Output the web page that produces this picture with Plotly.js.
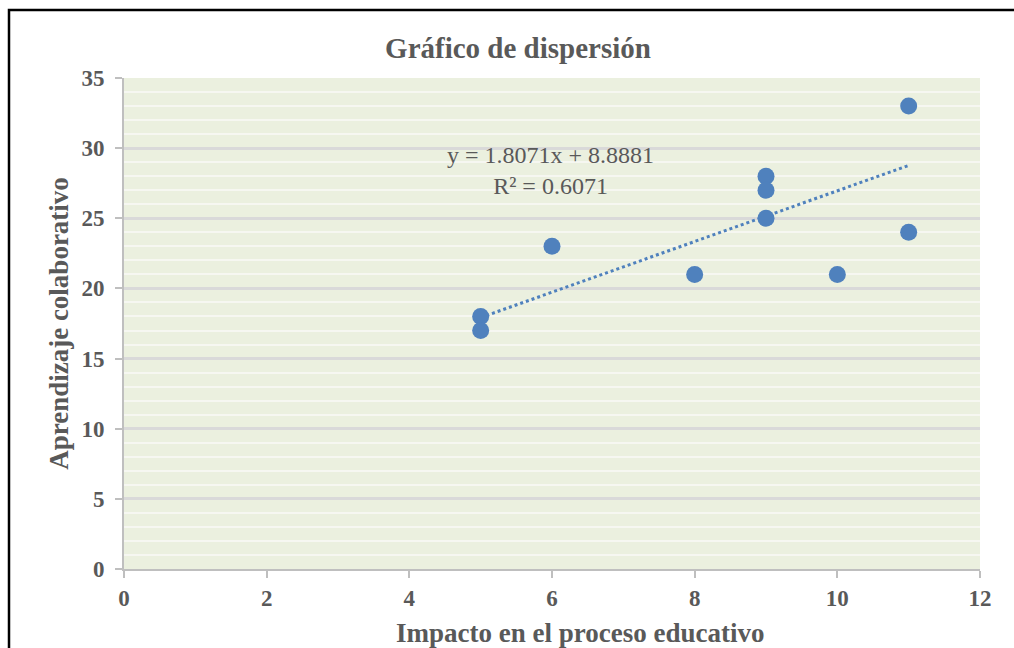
<!DOCTYPE html>
<html>
<head>
<meta charset="utf-8">
<script src="https://cdn.plot.ly/plotly-3.0.1.min.js"></script>
<style>html,body{margin:0;padding:0;background:#fff;}#chart{width:1014px;height:648px;}</style>
</head>
<body>
<div id="chart"></div>
<script>
// Data
const impacto = [5, 5, 6, 8, 9, 9, 9, 10, 11, 11];
const aprendizaje = [18, 17, 23, 21, 28, 27, 25, 21, 33, 24];
// Trendline coefficients shown on the chart
const slope = 1.8071;
const intercept = 8.8881;
const r2 = 0.6071;
const trendX = [Math.min(...impacto), Math.max(...impacto)];
const trendY = trendX.map(v => slope * v + intercept);
const xTicks = [0, 2, 4, 6, 8, 10, 12];
const yTicks = [0, 5, 10, 15, 20, 25, 30, 35];
const xTitle = 'Impacto en el proceso educativo';
const yTitle = 'Aprendizaje colaborativo';
const chartTitle = 'Gráfico de dispersión';

const serif = 'Liberation Serif, Times New Roman, serif';
const grey = '#595959';
const blue = '#4F81BD';

const traces = [
  {
    x: trendX, y: trendY, type: 'scatter', mode: 'lines',
    line: {color: blue, width: 3, dash: 'dot'},
    hoverinfo: 'skip', showlegend: false
  },
  {
    x: impacto, y: aprendizaje, type: 'scatter', mode: 'markers',
    marker: {color: blue, size: 17},
    showlegend: false
  }
];

const layout = {
  width: 1014, height: 648,
  margin: {l: 124, r: 34, t: 78, b: 79},
  paper_bgcolor: '#ffffff',
  plot_bgcolor: '#EBF0DF',
  font: {family: serif, color: grey},
  title: {
    text: '<b>' + chartTitle + '</b>',
    font: {family: serif, size: 29, color: grey},
    x: 518 / 1014, xref: 'container', xanchor: 'center',
    y: 1 - 48 / 648, yref: 'container', yanchor: 'middle'
  },
  xaxis: {
    range: [0, 12], tickvals: xTicks, ticktext: xTicks.map(String),
    showgrid: false, zeroline: false,
    showline: true, linecolor: '#BFBFBF', linewidth: 2,
    ticks: 'outside', ticklen: 7, tickcolor: '#BFBFBF', tickwidth: 2,
    tickfont: {family: serif, size: 23, color: grey, weight: 'bold'},
    fixedrange: true
  },
  yaxis: {
    range: [0, 35], tickvals: yTicks, ticktext: yTicks.map(String),
    showgrid: true, gridcolor: '#D9D9D9', gridwidth: 3,
    minor: {dtick: 1, tick0: 0, showgrid: true, gridcolor: '#F6F7F1', gridwidth: 2, ticks: ''},
    zeroline: false,
    showline: true, linecolor: '#BFBFBF', linewidth: 2,
    ticks: 'outside', ticklen: 7, tickcolor: '#BFBFBF', tickwidth: 2,
    ticklabelstandoff: 6,
    tickfont: {family: serif, size: 23, color: grey, weight: 'bold'},
    title: {text: '<b>' + yTitle + '</b>', font: {family: serif, size: 27, color: grey}, standoff: 5},
    fixedrange: true
  },
  annotations: [
    {
      xref: 'paper', yref: 'paper',
      x: (550 - 124) / 856, y: (569 - 170) / 491,
      xanchor: 'center', yanchor: 'middle',
      text: 'y = ' + slope.toFixed(4) + 'x + ' + intercept.toFixed(4) + '<br>R² = ' + r2.toFixed(4),
      showarrow: false, align: 'center',
      font: {family: serif, size: 24, color: grey}
    },
    {
      xref: 'paper', yref: 'paper',
      x: (580 - 124) / 856, y: (569 - 633) / 491,
      xanchor: 'center', yanchor: 'middle',
      text: '<b>' + xTitle + '</b>',
      showarrow: false,
      font: {family: serif, size: 27, color: grey}
    }
  ],
  shapes: [
    {
      type: 'rect', xref: 'paper', yref: 'paper', layer: 'above',
      x0: (9 - 124) / 856, x1: (1030 - 124) / 856,
      y0: (569 - 680) / 491, y1: (569 - 10) / 491,
      line: {color: '#000000', width: 2.5}, fillcolor: 'rgba(0,0,0,0)'
    }
  ]
};

Plotly.newPlot('chart', traces, layout, {displayModeBar: false, staticPlot: true});
</script>
</body>
</html>
